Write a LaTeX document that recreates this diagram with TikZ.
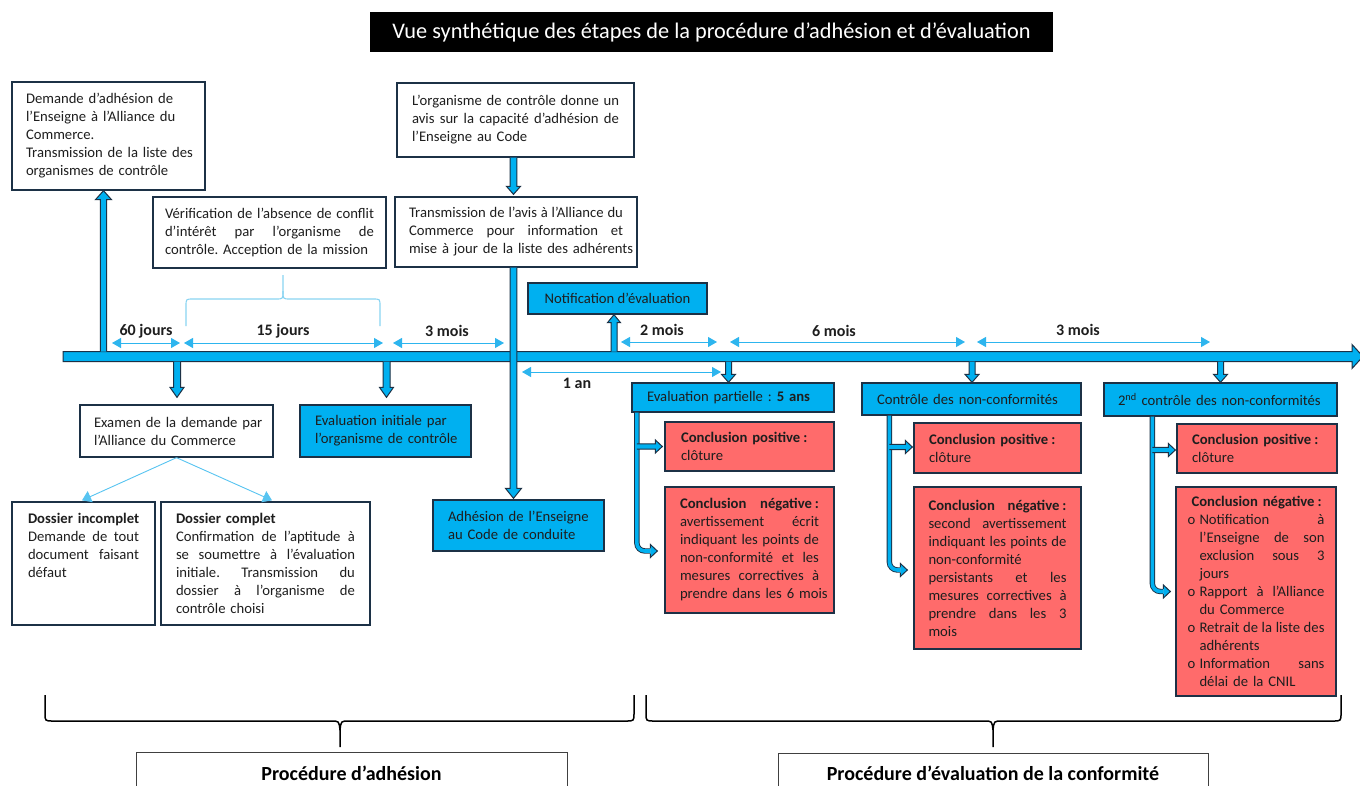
\documentclass[tikz,border=0pt]{standalone}
\usepackage{fontspec}
\setmainfont{Carlito}
\usetikzlibrary{arrows.meta,calc}
\setlength\parindent{0pt}
\frenchspacing

\definecolor{cyanfill}{HTML}{00B0F0}
\definecolor{edge}{HTML}{1C3146}
\definecolor{redfill}{HTML}{FF6B6B}
\definecolor{dimblue}{HTML}{2DB5EE}
\definecolor{bracecol}{HTML}{8AD4F2}
\definecolor{ink}{HTML}{1E1E1E}

\newlength\boxw
\newcommand\txt{\fontsize{14.67pt}{18pt}\selectfont}
\newcommand\lbl{\fontsize{16pt}{19pt}\selectfont\bfseries}
% one justified line / one flush-left line of a box
\newcommand\jl[1]{\makebox[\boxw][s]{\spaceskip=0.226em plus 1fil minus 0.08em\relax #1}}
\newcommand\fl[1]{\makebox[\boxw][l]{#1}}
% bulleted lines
\newcommand\bitem[1]{\makebox[12pt][l]{o}\makebox[\dimexpr\boxw-12pt\relax][s]{\spaceskip=0.226em plus 1fil minus 0.08em\relax #1}}
\newcommand\bcont[1]{\hspace*{12pt}\makebox[\dimexpr\boxw-12pt\relax][s]{\spaceskip=0.226em plus 1fil minus 0.08em\relax #1}}
\newcommand\bcontL[1]{\hspace*{12pt}\makebox[\dimexpr\boxw-12pt\relax][l]{#1}}

% block arrow: start, tip, shaft half-width, head half-width, head length
\newcommand\blockarrow[5]{%
  \path (#1) coordinate (ba-s) (#2) coordinate (ba-t);
  \path ($(ba-t)!#5!(ba-s)$) coordinate (ba-h);
  \fill[cyanfill] ($(ba-s)!#3!90:(ba-t)$) -- ($(ba-h)!#3!90:(ba-t)$) -- ($(ba-h)!#4!90:(ba-t)$) -- (ba-t)
    -- ($(ba-h)!#4!-90:(ba-t)$) -- ($(ba-h)!#3!-90:(ba-t)$) -- ($(ba-s)!#3!-90:(ba-t)$) -- cycle;
  \draw[edge, line width=1pt] ($(ba-s)!#3!90:(ba-t)$) -- ($(ba-h)!#3!90:(ba-t)$) -- ($(ba-h)!#4!90:(ba-t)$) -- (ba-t)
    -- ($(ba-h)!#4!-90:(ba-t)$) -- ($(ba-h)!#3!-90:(ba-t)$) -- ($(ba-s)!#3!-90:(ba-t)$);
}

\tikzset{
  box/.style={draw=edge, line width=1.3pt, fill=white, inner sep=0pt, font=\txt, text=ink, align=left},
  tw/.style={text width=#1, execute at begin node={\setlength\boxw{#1}}},
  bluebox/.style={box, fill=cyanfill},
  redbox/.style={box, fill=redfill},
  dim/.style={draw=dimblue, line width=1pt, {Triangle[width=10pt,length=9pt]}-{Triangle[width=10pt,length=9pt]}},
  dimlbl/.style={font=\lbl, text=ink, inner sep=0pt},
  thinarr/.style={draw=dimblue!80, line width=0.9pt, -{Triangle[width=12pt,length=9pt]}},
  shaft/.style={draw=edge, line width=0.9pt, double=cyanfill, double distance=3.6pt, rounded corners=8pt},
  lightbrace/.style={draw=bracecol, line width=1.1pt},
  bigbrace/.style={draw=black, line width=1.5pt},
  procbox/.style={draw=black!75, line width=1pt, fill=white, font=\fontsize{20pt}{24pt}\selectfont\bfseries, text=black, inner sep=0pt},
}

\begin{document}
\begin{tikzpicture}[x=1pt, y=-1pt]
\useasboundingbox (0,0) rectangle (1360,785);
\fill[white] (0,0) rectangle (1360,785);

% title
\node[fill=black, text=white, minimum width=683pt, minimum height=40pt, inner sep=0pt,
      font=\fontsize{22.3pt}{26pt}\selectfont] (title) at (711.5,32)
      {Vue synthétique des étapes de la procédure d’adhésion et d’évaluation};

% time line
\path[fill=cyanfill, draw=edge, line width=1pt] (63,351.5) -- (1352,351.5) -- (1352,344.5) -- (1363,356.5)
  -- (1352,368.5) -- (1352,361.5) -- (63,361.5) -- cycle;
\coordinate (p103) at (103.5,351.5);
\coordinate (p177) at (177,361.5);
\coordinate (p387) at (386.5,361.5);
\coordinate (p513) at (513.5,356.5);
\coordinate (p614) at (614,351.5);
\coordinate (p728) at (728.5,361.5);
\coordinate (p972) at (972,361.5);
\coordinate (p1221) at (1220.5,361.5);

% boxes of the membership procedure
\node[box, minimum width=193pt, minimum height=108pt, tw=165pt] (demande) at (108.5,136)
  {\fl{Demande d’adhésion de}\\\fl{l’Enseigne à l’Alliance du}\\\fl{Commerce.}\\\fl{Transmission de la liste des}\\\fl{organismes de contrôle}};
\node[box, minimum width=233pt, minimum height=71pt, tw=209pt] (verif) at (269.5,232.5)
  {\jl{Vérification de l’absence de conflit}\\\jl{d’intérêt par l’organisme de}\\\fl{contrôle. Acception de la mission}};
\node[box, minimum width=237pt, minimum height=74pt, tw=207pt] (organisme) at (515.5,120)
  {\jl{L’organisme de contrôle donne un}\\\jl{avis sur la capacité d’adhésion de}\\\fl{l’Enseigne au Code}};
\node[box, minimum width=242pt, minimum height=70pt, tw=214pt] (transmission) at (516,232)
  {\jl{Transmission de l’avis à l’Alliance du}\\\jl{Commerce pour information et}\\\fl{mise à jour de la liste des adhérents}};
\node[bluebox, minimum width=179pt, minimum height=31pt, align=center] (notification) at (617.5,298.5)
  {Notification d’évaluation};
\node[box, minimum width=193pt, minimum height=52pt, tw=165pt] (examen) at (176.5,431)
  {\fl{Examen de la demande par}\\\fl{l’Alliance du Commerce}};
\node[bluebox, minimum width=171pt, minimum height=52pt, tw=141pt] (evalinit) at (385.5,431)
  {\fl{Evaluation initiale par}\\\fl{l’organisme de contrôle}};
\node[box, minimum width=143pt, minimum height=123pt, tw=111pt] (incomplet) at (83.5,563.5)
  {\fl{\textbf{Dossier incomplet}}\\\jl{Demande de tout}\\\jl{document faisant}\\\fl{défaut}\\\fl{}\\\fl{}};
\node[box, minimum width=209pt, minimum height=123pt, tw=179pt] (complet) at (265.5,563.5)
  {\fl{\textbf{Dossier complet}}\\\jl{Confirmation de l’aptitude à}\\\jl{se soumettre à l’évaluation}\\\jl{initiale. Transmission du}\\\jl{dossier à l’organisme de}\\\fl{contrôle choisi}};
\node[bluebox, minimum width=171pt, minimum height=51pt, tw=141pt] (adhesion) at (518.5,525.5)
  {\fl{Adhésion de l’Enseigne}\\\fl{au Code de conduite}};

% boxes of the conformity assessment
\node[bluebox, minimum width=202pt, minimum height=29pt, tw=172pt] (evalpart) at (733,397.5)
  {\fl{Evaluation partielle : \textbf{5 ans}}};
\node[bluebox, minimum width=219pt, minimum height=32pt, tw=189pt] (controle) at (971.5,399)
  {\fl{Contrôle des non-conformités}};
\node[bluebox, minimum width=233pt, minimum height=33pt, tw=205pt] (controle2) at (1220.5,399.5)
  {\fl{2\textsuperscript{nd} contrôle des non-conformités}};
\node[redbox, minimum width=169pt, minimum height=49pt, tw=137pt] (pos1) at (749.5,446.5)
  {\fl{\textbf{Conclusion positive\kern3pt:}}\\\fl{clôture}};
\node[redbox, minimum width=169pt, minimum height=126pt, tw=139pt] (neg1) at (749.5,550)
  {\jl{\textbf{Conclusion négative\kern3pt:}}\\\jl{avertissement écrit}\\\jl{indiquant les points de}\\\jl{non-conformité et les}\\\jl{mesures correctives à}\\\fl{prendre dans les 6 mois}};
\node[redbox, minimum width=167pt, minimum height=50pt, tw=137pt] (pos2) at (997.5,448)
  {\fl{\textbf{Conclusion positive\kern3pt:}}\\\fl{clôture}};
\node[redbox, minimum width=167pt, minimum height=162pt, tw=138pt] (neg2) at (997.5,568)
  {\jl{\textbf{Conclusion négative\kern3pt:}}\\\jl{second avertissement}\\\jl{indiquant les points de}\\\fl{non-conformité}\\\jl{persistants et les}\\\jl{mesures correctives à}\\\jl{prendre dans les 3}\\\fl{mois}};
\node[redbox, minimum width=160pt, minimum height=49pt, tw=130pt] (pos3) at (1257,448.5)
  {\fl{\textbf{Conclusion positive\kern3pt:}}\\\fl{clôture}};
\node[redbox, minimum width=160pt, minimum height=209pt, tw=137pt] (neg3) at (1256,591.5)
  {\fl{\hspace*{4pt}\textbf{Conclusion négative\kern3pt:}}\\\bitem{Notification à}\\\bcont{l’Enseigne de son}\\\bcont{exclusion sous 3}\\\bcontL{jours}\\\bitem{Rapport à l’Alliance}\\\bcontL{du Commerce}\\\bitem{Retrait de la liste des}\\\bcontL{adhérents}\\\bitem{Information sans}\\\bcontL{délai de la CNIL}};

% block arrows to and from the time line
\blockarrow{p103}{p103 |- demande.south}{3.2pt}{8pt}{9pt}
\blockarrow{p177}{$(p177 |- examen.north)+(0,-7)$}{3.5pt}{7pt}{10pt}
\blockarrow{p387}{$(p387 |- evalinit.north)+(0,-7)$}{3.5pt}{7pt}{10pt}
\blockarrow{p513 |- organisme.south}{$(p513 |- transmission.north)+(0,-2)$}{3.3pt}{7pt}{8pt}
\blockarrow{p513 |- transmission.south}{$(p513 |- adhesion.north)+(0,-1)$}{3.3pt}{8pt}{10pt}
\blockarrow{p614}{p614 |- notification.south}{3pt}{6.5pt}{8pt}
\blockarrow{p728}{p728 |- evalpart.north}{3pt}{7pt}{8pt}
\blockarrow{p972}{p972 |- controle.north}{3pt}{7pt}{8pt}
\blockarrow{p1221}{p1221 |- controle2.north}{3pt}{7pt}{8pt}

% branches towards the conclusions
\path (evalpart.south west) ++(5.5,0) coordinate (b1);
\path (controle.south west) ++(28,0) coordinate (b2);
\path (controle2.south west) ++(49,0) coordinate (b3);
\draw[shaft] (b1) |- ($(neg1.west)+(-14,1)$);
\blockarrow{$(neg1.west)+(-14,1)$}{$(neg1.west)+(-7,1)$}{2.7pt}{6.5pt}{7pt}
\blockarrow{b1 |- pos1.west}{$(pos1.west)+(-2,0)$}{2.6pt}{6.5pt}{7pt}
\draw[shaft] (b2) |- ($(neg2.west)+(-13,2)$);
\blockarrow{$(neg2.west)+(-13,2)$}{$(neg2.west)+(-6,2)$}{2.7pt}{6.5pt}{7pt}
\blockarrow{$(b2 |- pos2.west)+(0,-1)$}{$(pos2.west)+(-1,-1)$}{2.6pt}{6.5pt}{7pt}
\draw[shaft] (b3) |- ($(neg3.west)+(-12,0)$);
\blockarrow{$(neg3.west)+(-12,0)$}{$(neg3.west)+(-5,0)$}{2.7pt}{6.5pt}{7pt}
\blockarrow{$(b3 |- pos3.west)+(0,1.5)$}{$(pos3.west)+(-1,1.5)$}{2.6pt}{6.5pt}{7pt}

% examination outcome
\draw[thinarr] (examen.south) -- ($(incomplet.north)+(-1.5,-1)$);
\draw[thinarr] (examen.south) -- ($(complet.north)+(6.5,-1)$);

% duration markers
\coordinate (d60a) at (112,343);  \coordinate (d60b) at (180,343);
\coordinate (d15a) at (184,343);  \coordinate (d15b) at (383,343);
\coordinate (d3a) at (393,343);   \coordinate (d3b) at (504,343);
\coordinate (d2a) at (621,342);   \coordinate (d2b) at (717,342);
\coordinate (d6a) at (730,342);   \coordinate (d6b) at (965,342);
\coordinate (d3ca) at (977,342);  \coordinate (d3cb) at (1210,342);
\coordinate (dya) at (522,372);   \coordinate (dyb) at (721,372);
\draw[dim] (d60a) -- (d60b);
\draw[dim] (d15a) -- (d15b);
\draw[dim] (d3a) -- (d3b);
\draw[dim] (d2a) -- (d2b);
\draw[dim] (d6a) -- (d6b);
\draw[dim] (d3ca) -- (d3cb);
\draw[dim] (dya) -- (dyb);
\node[dimlbl] (l60) at (146,331) {60 jours};
\node[dimlbl] (l15) at (283,331) {15 jours};
\node[dimlbl] (l3a) at (447,331) {3 mois};
\node[dimlbl] (l2) at (662,330) {2 mois};
\node[dimlbl] (l6) at (834,331) {6 mois};
\node[dimlbl] (l3b) at (1078,330) {3 mois};
\node[dimlbl] (l1) at (577,383) {1 an};

% brace linking the 15-day span to its box
\draw[lightbrace] (186,326) -- (186,306) .. controls (186,299) .. (193,299) -- (276,299) .. controls (283,299) .. (283,291) -- (283,275);
\draw[lightbrace] (380,326) -- (380,306) .. controls (380,299) .. (373,299) -- (290,299) .. controls (283,299) .. (283,291);

% procedure braces and captions
\draw[bigbrace] (45,695) -- (45,713) .. controls (45,721) .. (53,721) -- (331,721) .. controls (339,721) .. (340,730) -- (340,747);
\draw[bigbrace] (634,695) -- (634,713) .. controls (634,721) .. (626,721) -- (349,721) .. controls (341,721) .. (340,730);
\draw[bigbrace] (646,695) -- (646,713) .. controls (646,721) .. (654,721) -- (984,721) .. controls (992,721) .. (993,730) -- (993,747);
\draw[bigbrace] (1341,695) -- (1341,713) .. controls (1341,721) .. (1333,721) -- (1002,721) .. controls (994,721) .. (993,730);
\node[procbox, minimum width=431pt, minimum height=42pt] (adhproc) at (351.5,773) {Procédure d’adhésion};
\node[procbox, minimum width=430pt, minimum height=41pt] (evalproc) at (993,773.5) {Procédure d’évaluation de la conformité};
\end{tikzpicture}
\end{document}
